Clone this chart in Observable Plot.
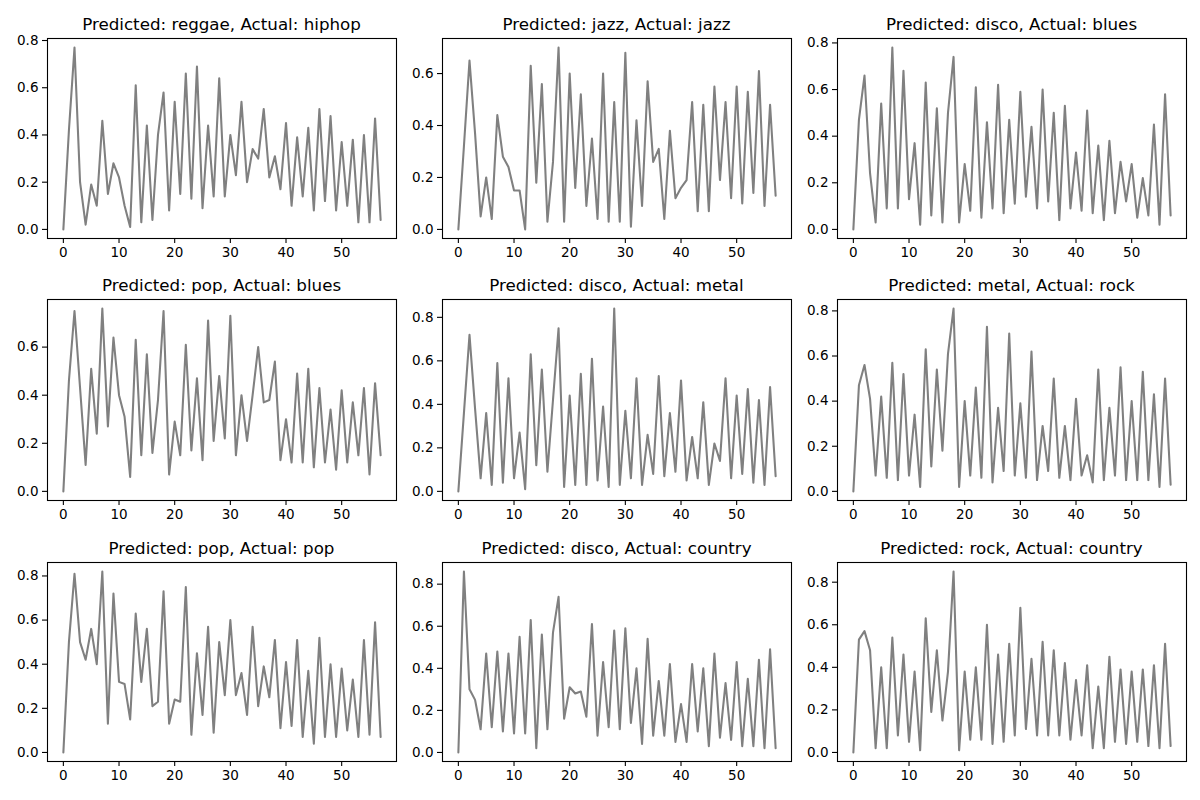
<!DOCTYPE html>
<html><head><meta charset="utf-8">
<script src="https://cdn.jsdelivr.net/npm/d3@7"></script>
<script src="https://cdn.jsdelivr.net/npm/@observablehq/plot@0.6"></script>
<style>
body{margin:0;background:#fff;}
#fig{position:relative;width:1200px;height:800px;font-family:"DejaVu Sans",sans-serif;overflow:hidden;background:#fff;}
.title{position:absolute;font-size:16.7px;line-height:1;color:#000;white-space:nowrap;transform:translateX(-50%);}
.panel{position:absolute;}
</style></head><body><div id="fig"></div>
<script>
const titles = [
  "Predicted: reggae, Actual: hiphop",
  "Predicted: jazz, Actual: jazz",
  "Predicted: disco, Actual: blues",
  "Predicted: pop, Actual: blues",
  "Predicted: disco, Actual: metal",
  "Predicted: metal, Actual: rock",
  "Predicted: pop, Actual: pop",
  "Predicted: disco, Actual: country",
  "Predicted: rock, Actual: country"
];
const xTicks = [0, 10, 20, 30, 40, 50];
const yTickCandidates = [0.0, 0.2, 0.4, 0.6, 0.8];

const reggaeHiphop = [0.00,0.42,0.77,0.20,0.02,0.19,0.10,0.46,0.15,0.28,0.22,0.10,0.01,0.61,0.03,0.44,0.04,0.40,0.58,0.08,0.54,0.15,0.66,0.13,0.69,0.09,0.44,0.14,0.64,0.14,0.40,0.23,0.54,0.20,0.34,0.30,0.51,0.22,0.31,0.17,0.45,0.10,0.39,0.14,0.43,0.08,0.51,0.12,0.48,0.08,0.37,0.10,0.38,0.03,0.40,0.03,0.47,0.04];
const jazzJazz = [0.00,0.32,0.65,0.37,0.05,0.20,0.04,0.44,0.28,0.24,0.15,0.15,0.00,0.63,0.18,0.56,0.03,0.26,0.70,0.03,0.60,0.16,0.52,0.09,0.35,0.04,0.60,0.03,0.49,0.03,0.68,0.01,0.42,0.09,0.57,0.26,0.31,0.04,0.38,0.12,0.16,0.19,0.49,0.07,0.48,0.07,0.55,0.19,0.49,0.12,0.55,0.10,0.53,0.14,0.61,0.09,0.48,0.13];
const discoBlues = [0.00,0.47,0.66,0.24,0.03,0.54,0.09,0.78,0.09,0.68,0.13,0.37,0.02,0.63,0.06,0.52,0.03,0.50,0.74,0.03,0.28,0.08,0.61,0.05,0.46,0.09,0.62,0.07,0.47,0.11,0.59,0.14,0.44,0.09,0.60,0.12,0.50,0.04,0.53,0.09,0.33,0.08,0.51,0.07,0.36,0.04,0.38,0.07,0.29,0.12,0.28,0.05,0.22,0.06,0.45,0.02,0.58,0.06];
const popBlues = [0.00,0.46,0.75,0.43,0.11,0.51,0.24,0.76,0.27,0.64,0.40,0.31,0.06,0.63,0.15,0.57,0.16,0.38,0.75,0.07,0.29,0.15,0.61,0.17,0.47,0.13,0.71,0.21,0.48,0.22,0.73,0.15,0.40,0.21,0.40,0.60,0.37,0.38,0.54,0.13,0.30,0.12,0.49,0.12,0.51,0.10,0.43,0.12,0.34,0.09,0.42,0.12,0.37,0.15,0.43,0.07,0.45,0.15];
const discoMetal = [0.00,0.36,0.72,0.38,0.06,0.36,0.03,0.59,0.04,0.52,0.06,0.27,0.01,0.63,0.12,0.56,0.09,0.42,0.75,0.02,0.44,0.03,0.54,0.03,0.61,0.05,0.39,0.02,0.84,0.03,0.37,0.06,0.52,0.03,0.26,0.08,0.53,0.07,0.36,0.09,0.51,0.05,0.25,0.06,0.41,0.03,0.22,0.14,0.52,0.06,0.44,0.08,0.47,0.04,0.42,0.03,0.48,0.07];
const metalRock = [0.00,0.47,0.56,0.41,0.07,0.42,0.06,0.57,0.05,0.52,0.07,0.34,0.02,0.63,0.11,0.54,0.18,0.61,0.81,0.02,0.40,0.07,0.46,0.06,0.73,0.04,0.37,0.09,0.70,0.07,0.39,0.06,0.62,0.05,0.29,0.09,0.50,0.06,0.29,0.05,0.41,0.07,0.16,0.04,0.54,0.05,0.37,0.07,0.55,0.05,0.40,0.05,0.53,0.05,0.43,0.02,0.50,0.03];
const popPop = [0.00,0.50,0.81,0.50,0.42,0.56,0.40,0.82,0.13,0.72,0.32,0.31,0.15,0.63,0.32,0.56,0.21,0.23,0.73,0.13,0.24,0.23,0.75,0.08,0.45,0.17,0.57,0.09,0.50,0.26,0.60,0.26,0.36,0.17,0.57,0.21,0.39,0.25,0.51,0.11,0.41,0.12,0.51,0.07,0.37,0.04,0.52,0.07,0.40,0.07,0.38,0.10,0.33,0.07,0.51,0.08,0.59,0.07];
const discoCountry = [0.00,0.86,0.30,0.25,0.11,0.47,0.12,0.48,0.10,0.47,0.09,0.55,0.09,0.63,0.02,0.56,0.11,0.57,0.74,0.16,0.31,0.28,0.29,0.17,0.61,0.08,0.43,0.12,0.58,0.11,0.59,0.14,0.40,0.04,0.54,0.08,0.34,0.08,0.42,0.05,0.23,0.05,0.42,0.10,0.40,0.03,0.47,0.07,0.33,0.06,0.43,0.03,0.35,0.03,0.44,0.02,0.49,0.02];
const rockCountry = [0.00,0.53,0.57,0.48,0.02,0.40,0.02,0.54,0.08,0.46,0.05,0.38,0.01,0.63,0.19,0.48,0.15,0.38,0.85,0.01,0.38,0.06,0.40,0.06,0.60,0.04,0.46,0.05,0.51,0.08,0.68,0.11,0.44,0.08,0.52,0.08,0.48,0.08,0.42,0.06,0.34,0.08,0.41,0.02,0.31,0.02,0.45,0.05,0.39,0.04,0.38,0.05,0.39,0.03,0.41,0.02,0.51,0.03];

const seriesList = [reggaeHiphop, jazzJazz, discoBlues, popBlues, discoMetal, metalRock, popPop, discoCountry, rockCountry];

// layout (axes boxes in page pixels)
const colLeft = [47, 442, 837], colRight = [396, 791, 1186];
const rowTop = [38, 299, 562], rowBottom = [238, 500, 761];
const ML = 52, MR = 6, MT = 4, MB = 30;

const fig = document.getElementById("fig");
seriesList.forEach((vals, i) => {
  const r = Math.floor(i / 3), c = i % 3;
  const data = vals.map((v, k) => ({x: k, y: v}));
  const n = vals.length - 1;
  const xPad = n * 0.05;
  const ymin = d3.min(vals), ymax = d3.max(vals);
  const yPad = (ymax - ymin) * 0.05;
  const yDomain = [ymin - yPad, ymax + yPad];
  const yTicks = yTickCandidates.filter(t => t >= yDomain[0] - 1e-9 && t <= yDomain[1] + 1e-9);
  const w = colRight[c] - colLeft[c], h = rowBottom[r] - rowTop[r];
  const chart = Plot.plot({
    width: w + ML + MR,
    height: h + MT + MB,
    marginLeft: ML, marginRight: MR, marginTop: MT, marginBottom: MB,
    style: {fontFamily: "DejaVu Sans, sans-serif", fontSize: "13.5px", color: "#000", background: "transparent", overflow: "visible"},
    x: {domain: [-xPad, n + xPad]},
    y: {domain: yDomain},
    marks: [
      Plot.line(data, {x: "x", y: "y", stroke: "#808080", strokeWidth: 2.08}),
      Plot.frame({stroke: "#000", strokeWidth: 1.1}),
      Plot.axisX({ticks: xTicks, tickSize: 5, tickPadding: 4, tickFormat: d3.format("d"), label: null, strokeWidth: 1.1}),
      Plot.axisY({ticks: yTicks, tickSize: 5, tickPadding: 4, tickFormat: d3.format(".1f"), label: null, strokeWidth: 1.1})
    ]
  });
  const holder = document.createElement("div");
  holder.className = "panel";
  holder.style.left = (colLeft[c] - ML) + "px";
  holder.style.top = (rowTop[r] - MT) + "px";
  holder.appendChild(chart);
  fig.appendChild(holder);
  const t = document.createElement("div");
  t.className = "title";
  t.textContent = titles[i];
  t.style.left = ((colLeft[c] + colRight[c]) / 2) + "px";
  t.style.top = (rowTop[r] - 22) + "px";
  fig.appendChild(t);
});
</script>
</body></html>
